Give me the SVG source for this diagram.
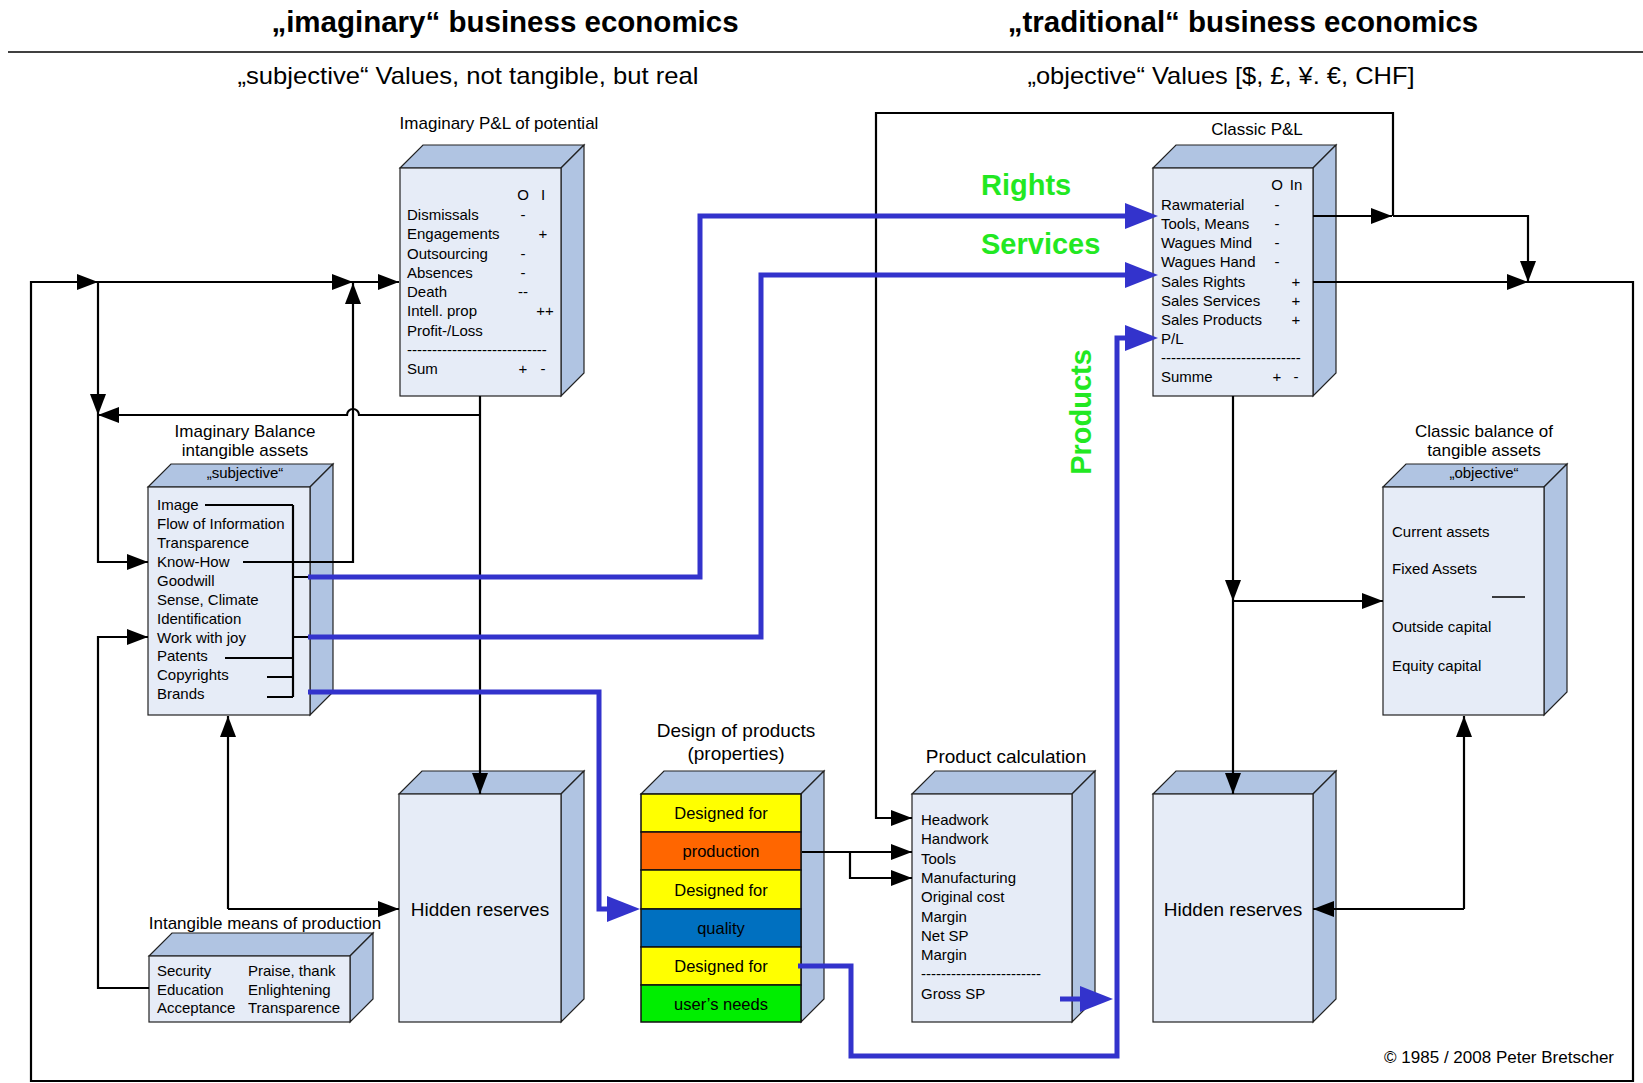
<svg xmlns="http://www.w3.org/2000/svg" width="1643" height="1083" viewBox="0 0 1643 1083">
<style>
.f{fill:#E6ECF7;stroke:#222;stroke-width:1.2}
.s{fill:#B0C4E2;stroke:#222;stroke-width:1.2}
text{font-family:"Liberation Sans",Arial,sans-serif;fill:#000}
.r{font-size:15px}
.m{text-anchor:middle}
.lbl{font-size:17px;text-anchor:middle}
.big{font-size:19px;text-anchor:middle}
.ln{fill:none;stroke:#000;stroke-width:2.2}
.bl{fill:none;stroke:#3333CC;stroke-width:5}
.g{font-weight:bold;font-size:29px;fill:#22E822}
.band{stroke:#111;stroke-width:1.5}
.bt{font-size:16.5px;text-anchor:middle}
</style>
<defs>
<marker id="ah" markerUnits="userSpaceOnUse" markerWidth="22" markerHeight="16" refX="21" refY="8" orient="auto"><path d="M0,0 L21,8 L0,16 Z" fill="#000"/></marker>
<marker id="bh" markerUnits="userSpaceOnUse" markerWidth="34" markerHeight="26" refX="21" refY="13" orient="auto"><path d="M0,0 L33,13 L0,26 Z" fill="#3333CC"/></marker>
</defs>
<rect width="1643" height="1083" fill="#fff"/>

<g id="header">
<text x="505" y="32" font-size="29.5" font-weight="bold" text-anchor="middle">„imaginary“ business economics</text>
<text x="1243" y="32" font-size="29.5" font-weight="bold" text-anchor="middle">„traditional“ business economics</text>
<line x1="8" y1="52" x2="1643" y2="52" stroke="#000" stroke-width="1.5"/>
<text x="468" y="84" font-size="24" text-anchor="middle" textLength="461" lengthAdjust="spacingAndGlyphs">„subjective“ Values, not tangible, but real</text>
<text x="1221" y="84" font-size="24" text-anchor="middle" textLength="387" lengthAdjust="spacingAndGlyphs">„objective“ Values [$, £, ¥. €, CHF]</text>
</g>

<g id="imaginary-pl">
<text class="lbl" x="499" y="129">Imaginary P&amp;L of potential</text>
<path class="s" d="M400,168 L423,145 L584,145 L561,168 Z"/>
<path class="s" d="M561,168 L584,145 L584,373 L561,396 Z"/>
<rect class="f" x="400" y="168" width="161" height="228"/>
<g class="r">
<text class="m" x="523" y="200">O</text><text class="m" x="543" y="200">I</text>
<text x="407" y="220">Dismissals</text><text class="m" x="523" y="220">-</text>
<text x="407" y="239">Engagements</text><text class="m" x="543" y="239">+</text>
<text x="407" y="258.5">Outsourcing</text><text class="m" x="523" y="258.5">-</text>
<text x="407" y="278">Absences</text><text class="m" x="523" y="278">-</text>
<text x="407" y="297">Death</text><text class="m" x="523" y="297">--</text>
<text x="407" y="316">Intell. prop</text><text class="m" x="545" y="316">++</text>
<text x="407" y="335.5">Profit-/Loss</text>
<text x="407" y="355">----------------------------</text>
<text x="407" y="374">Sum</text><text class="m" x="523" y="374">+</text><text class="m" x="543" y="374">-</text>
</g>
</g>

<g id="classic-pl">
<text class="lbl" x="1257" y="135">Classic P&amp;L</text>
<path class="s" d="M1153,168 L1176,145 L1336,145 L1313,168 Z"/>
<path class="s" d="M1313,168 L1336,145 L1336,373 L1313,396 Z"/>
<rect class="f" x="1153" y="168" width="160" height="228"/>
<g class="r">
<text class="m" x="1277" y="190">O</text><text class="m" x="1296" y="190">In</text>
<text x="1161" y="210">Rawmaterial</text><text class="m" x="1277" y="210">-</text>
<text x="1161" y="229">Tools, Means</text><text class="m" x="1277" y="229">-</text>
<text x="1161" y="248">Wagues Mind</text><text class="m" x="1277" y="248">-</text>
<text x="1161" y="267">Wagues Hand</text><text class="m" x="1277" y="267">-</text>
<text x="1161" y="286.5">Sales Rights</text><text class="m" x="1296" y="286.5">+</text>
<text x="1161" y="305.5">Sales Services</text><text class="m" x="1296" y="305.5">+</text>
<text x="1161" y="324.5">Sales Products</text><text class="m" x="1296" y="324.5">+</text>
<text x="1161" y="343.5">P/L</text>
<text x="1161" y="363">----------------------------</text>
<text x="1161" y="382">Summe</text><text class="m" x="1277" y="382">+</text><text class="m" x="1296" y="382">-</text>
</g>
</g>

<g id="imaginary-balance">
<text class="lbl" x="245" y="437">Imaginary Balance</text>
<text class="lbl" x="245" y="456">intangible assets</text>
<path class="s" d="M148,487 L171,464 L333,464 L310,487 Z"/>
<path class="s" d="M310,487 L333,464 L333,692 L310,715 Z"/>
<rect class="f" x="148" y="487" width="162" height="228"/>
<text class="r m" x="245" y="478">„subjective“</text>
<g class="r">
<text x="157" y="510">Image</text>
<text x="157" y="529">Flow of Information</text>
<text x="157" y="548">Transparence</text>
<text x="157" y="567">Know-How</text>
<text x="157" y="586">Goodwill</text>
<text x="157" y="604.5">Sense, Climate</text>
<text x="157" y="623.5">Identification</text>
<text x="157" y="642.5">Work with joy</text>
<text x="157" y="661">Patents</text>
<text x="157" y="680">Copyrights</text>
<text x="157" y="699">Brands</text>
</g>
</g>

<g id="classic-balance">
<text class="lbl" x="1484" y="437">Classic balance of</text>
<text class="lbl" x="1484" y="456">tangible assets</text>
<path class="s" d="M1383,487 L1406,464 L1567,464 L1544,487 Z"/>
<path class="s" d="M1544,487 L1567,464 L1567,692 L1544,715 Z"/>
<rect class="f" x="1383" y="487" width="161" height="228"/>
<text class="r m" x="1484" y="478">„objective“</text>
<g class="r">
<text x="1392" y="536.5">Current assets</text>
<text x="1392" y="574">Fixed Assets</text>
<line x1="1492" y1="597" x2="1525" y2="597" stroke="#000" stroke-width="1.3"/>
<text x="1392" y="632">Outside capital</text>
<text x="1392" y="670.5">Equity capital</text>
</g>
</g>

<g id="intangible-means">
<text class="lbl" x="265" y="929">Intangible means of production</text>
<path class="s" d="M149,956 L172,933 L373,933 L350,956 Z"/>
<path class="s" d="M350,956 L373,933 L373,999 L350,1022 Z"/>
<rect class="f" x="149" y="956" width="201" height="66"/>
<g class="r">
<text x="157" y="976">Security</text><text x="248" y="976">Praise, thank</text>
<text x="157" y="994.5">Education</text><text x="248" y="994.5">Enlightening</text>
<text x="157" y="1013">Acceptance</text><text x="248" y="1013">Transparence</text>
</g>
</g>

<g id="hidden-reserves-left">
<path class="s" d="M399,794 L422,771 L584,771 L561,794 Z"/>
<path class="s" d="M561,794 L584,771 L584,999 L561,1022 Z"/>
<rect class="f" x="399" y="794" width="162" height="228"/>
<text class="big" x="480" y="916">Hidden reserves</text>
</g>

<g id="design-of-products">
<text class="big" x="736" y="737">Design of products</text>
<text class="big" x="736" y="760">(properties)</text>
<path class="s" d="M641,794 L664,771 L824,771 L801,794 Z"/>
<path class="s" d="M801,794 L824,771 L824,999 L801,1022 Z"/>
<rect class="band" x="641" y="794" width="160" height="38" fill="#FFFF00"/>
<rect class="band" x="641" y="832" width="160" height="38" fill="#FF6600"/>
<rect class="band" x="641" y="870" width="160" height="39" fill="#FFFF00"/>
<rect class="band" x="641" y="909" width="160" height="38" fill="#0070C0"/>
<rect class="band" x="641" y="947" width="160" height="38" fill="#FFFF00"/>
<rect class="band" x="641" y="985" width="160" height="37" fill="#00EE00"/>
<text class="bt" x="721" y="819">Designed for</text>
<text class="bt" x="721" y="857">production</text>
<text class="bt" x="721" y="895.5">Designed for</text>
<text class="bt" x="721" y="934">quality</text>
<text class="bt" x="721" y="972">Designed for</text>
<text class="bt" x="721" y="1009.5">user’s needs</text>
</g>

<g id="product-calculation">
<text class="big" x="1006" y="763">Product calculation</text>
<path class="s" d="M912,794 L935,771 L1095,771 L1072,794 Z"/>
<path class="s" d="M1072,794 L1095,771 L1095,999 L1072,1022 Z"/>
<rect class="f" x="912" y="794" width="160" height="228"/>
<g class="r">
<text x="921" y="825">Headwork</text>
<text x="921" y="844">Handwork</text>
<text x="921" y="863.5">Tools</text>
<text x="921" y="883">Manufacturing</text>
<text x="921" y="902">Original cost</text>
<text x="921" y="921.5">Margin</text>
<text x="921" y="941">Net SP</text>
<text x="921" y="960">Margin</text>
<text x="921" y="979">------------------------</text>
<text x="921" y="999">Gross SP</text>
</g>
</g>

<g id="hidden-reserves-right">
<path class="s" d="M1153,794 L1176,771 L1336,771 L1313,794 Z"/>
<path class="s" d="M1313,794 L1336,771 L1336,999 L1313,1022 Z"/>
<rect class="f" x="1153" y="794" width="160" height="228"/>
<text class="big" x="1233" y="916">Hidden reserves</text>
</g>

<g id="flow-labels">
<text class="g" x="981" y="195">Rights</text>
<text class="g" x="981" y="254">Services</text>
<text class="g" text-anchor="middle" transform="translate(1091,412) rotate(-90)">Products</text>
</g>

<g id="connectors">
<path class="ln" d="M1528,282 H1633 V1081 H31 V282 H98" marker-end="url(#ah)"/>
<path class="ln" d="M98,282 H353" marker-end="url(#ah)"/>
<path class="ln" d="M353,282 H399" marker-end="url(#ah)"/>
<path class="ln" d="M98,282 V415" marker-end="url(#ah)"/>
<path class="ln" d="M98,415 V562 H148" marker-end="url(#ah)"/>
<path class="ln" d="M480,396 V794" marker-end="url(#ah)"/>
<path class="ln" d="M480,415 H359 A6,6 0 0 0 347,415 H98" marker-end="url(#ah)"/>
<path class="ln" d="M243,562 H353 V283" marker-end="url(#ah)"/>
<path class="ln" d="M293,505 V697 M205,505 H293 M225,658 H293 M267,677 H293 M267,697 H293 M293,577 H310 M293,637 H310"/>
<path class="ln" d="M228,909 V716" marker-end="url(#ah)"/>
<path class="ln" d="M228,909 H399" marker-end="url(#ah)"/>
<path class="ln" d="M149,988 H98 V637 H148" marker-end="url(#ah)"/>
<path class="ln" d="M1313,216 H1392" marker-end="url(#ah)"/>
<path class="ln" d="M1393,216 H1528 V282" marker-end="url(#ah)"/>
<path class="ln" d="M1313,282 H1528" marker-end="url(#ah)"/>
<path class="ln" d="M1393,216 V113 H876 V818 H912" marker-end="url(#ah)"/>
<path class="ln" d="M1233,396 V601" marker-end="url(#ah)"/>
<path class="ln" d="M1233,601 H1383" marker-end="url(#ah)"/>
<path class="ln" d="M1233,601 V794" marker-end="url(#ah)"/>
<path class="ln" d="M1464,909 V716" marker-end="url(#ah)"/>
<path class="ln" d="M1464,909 H1313" marker-end="url(#ah)"/>
<path class="ln" d="M802,852 H912" marker-end="url(#ah)"/>
<path class="ln" d="M850,852 V878 H912" marker-end="url(#ah)"/>
<path class="bl" d="M308,577 H700 V216 H1146" marker-end="url(#bh)"/>
<path class="bl" d="M308,637 H761 V275 H1146" marker-end="url(#bh)"/>
<path class="bl" d="M308,692 H599 V909 H628" marker-end="url(#bh)"/>
<path class="bl" d="M798,966 H851 V1056 H1117 V338 H1146" marker-end="url(#bh)"/>
<path class="bl" d="M1060,999 H1101" marker-end="url(#bh)"/>
</g>

<g id="copyright">
<text x="1614" y="1063" font-size="17" text-anchor="end">© 1985 / 2008 Peter Bretscher</text>
</g>
</svg>
